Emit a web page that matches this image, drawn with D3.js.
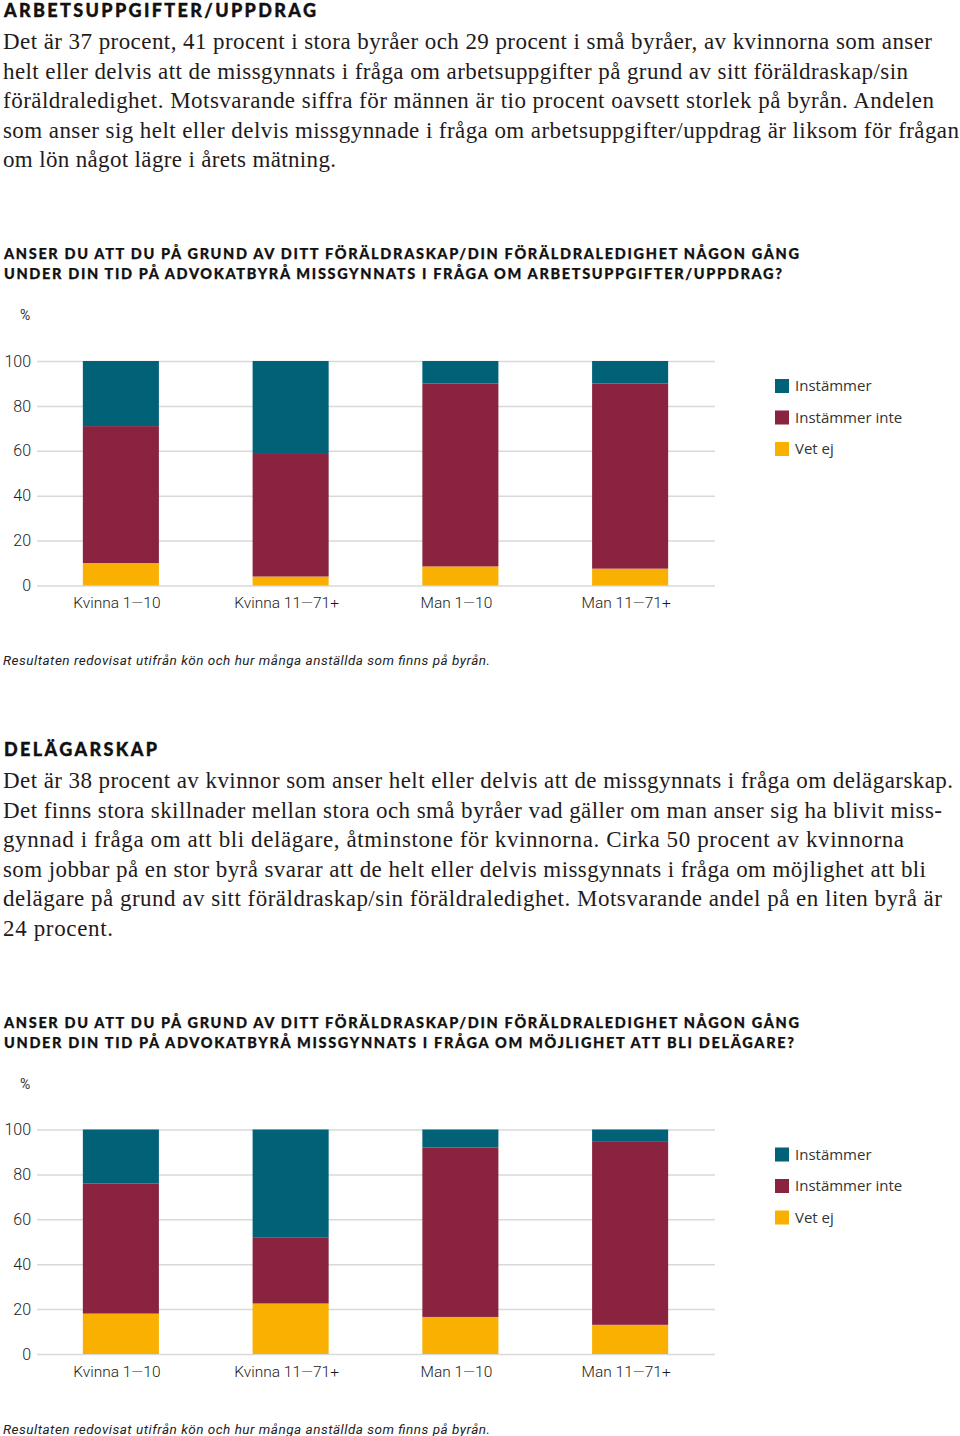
<!DOCTYPE html>
<html>
<head>
<meta charset="utf-8">
<script src="https://cdn.jsdelivr.net/npm/d3@7"></script>
<style>
  html, body { margin: 0; padding: 0; background: #fff; }
  svg { display: block; }
</style>
</head>
<body>
<div id="chart"></div>
<script>
// ---------- DATA ----------
const categories = ["Kvinna 1—10", "Kvinna 11—71+", "Man 1—10", "Man 11—71+"];
const seriesNames = ["Instämmer", "Instämmer inte", "Vet ej"];
const yTicks = [0, 20, 40, 60, 80, 100];

// Chart 1: arbetsuppgifter/uppdrag
const instammer1 = [29, 41, 10, 10];
const instammerInte1 = [61, 55, 81.5, 82.5];
const vetEj1 = [10, 4, 8.5, 7.5];

// Chart 2: delägarskap
const instammer2 = [24, 48, 8, 5.5];
const instammerInte2 = [58, 29.5, 75.5, 81.5];
const vetEj2 = [18, 22.5, 16.5, 13];

// Texts
const heading1 = "ARBETSUPPGIFTER/UPPDRAG";
const body1 = [
  "Det är 37 procent, 41 procent i stora byråer och 29 procent i små byråer, av kvinnorna som anser",
  "helt eller delvis att de missgynnats i fråga om arbetsuppgifter på grund av sitt föräldraskap/sin",
  "föräldraledighet. Motsvarande siffra för männen är tio procent oavsett storlek på byrån. Andelen",
  "som anser sig helt eller delvis missgynnade i fråga om arbetsuppgifter/uppdrag är liksom för frågan",
  "om lön något lägre i årets mätning."
];
const question1 = [
  "ANSER DU ATT DU PÅ GRUND AV DITT FÖRÄLDRASKAP/DIN FÖRÄLDRALEDIGHET NÅGON GÅNG",
  "UNDER DIN TID PÅ ADVOKATBYRÅ MISSGYNNATS I FRÅGA OM ARBETSUPPGIFTER/UPPDRAG?"
];
const heading2 = "DELÄGARSKAP";
const body2 = [
  "Det är 38 procent av kvinnor som anser helt eller delvis att de missgynnats i fråga om delägarskap.",
  "Det finns stora skillnader mellan stora och små byråer vad gäller om man anser sig ha blivit miss-",
  "gynnad i fråga om att bli delägare, åtminstone för kvinnorna. Cirka 50 procent av kvinnorna",
  "som jobbar på en stor byrå svarar att de helt eller delvis missgynnats i fråga om möjlighet att bli",
  "delägare på grund av sitt föräldraskap/sin föräldraledighet. Motsvarande andel på en liten byrå är",
  "24 procent."
];
const question2 = [
  "ANSER DU ATT DU PÅ GRUND AV DITT FÖRÄLDRASKAP/DIN FÖRÄLDRALEDIGHET NÅGON GÅNG",
  "UNDER DIN TID PÅ ADVOKATBYRÅ MISSGYNNATS I FRÅGA OM MÖJLIGHET ATT BLI DELÄGARE?"
];
const footnote = "Resultaten redovisat utifrån kön och hur många anställda som finns på byrån.";

// ---------- STYLE / LAYOUT ----------
const colors = { "Instämmer": "#006177", "Instämmer inte": "#8a2340", "Vet ej": "#f9b000" };
const W = 960, H = 1436;

const svg = d3.select("#chart").append("svg")
  .attr("width", W).attr("height", H)
  .attr("viewBox", `0 0 ${W} ${H}`);
svg.append("rect").attr("width", W).attr("height", H).attr("fill", "#fff");

// helper: text line fitted to a target width
function fitText(g, str, x, y, width, cls) {
  const t = g.append("text").attr("x", x).attr("y", y).attr("class", cls).text(str);
  if (width) t.attr("textLength", width).attr("lengthAdjust", "spacing");
  return t;
}

const headStyle = s => s.attr("font-family", "Lato, 'Open Sans', sans-serif").attr("font-weight", 900)
  .attr("font-size", 18).attr("fill", "#111").attr("stroke", "#111").attr("stroke-width", 0.35);
const bodyStyle = s => s.attr("font-family", "'Liberation Serif', 'DejaVu Serif', serif")
  .attr("font-size", 23).attr("fill", "#1f1b1c");
const questStyle = s => s.attr("font-family", "Lato, 'Open Sans', sans-serif").attr("font-weight", 900)
  .attr("font-size", 14.5).attr("fill", "#111").attr("stroke", "#111").attr("stroke-width", 0.25);

function section(top, heading, headW, body, bodyW) {
  const g = svg.append("g");
  headStyle(fitText(g, heading, 4, top + 17, headW));
  body.forEach((line, i) => {
    bodyStyle(fitText(g, line, 3, top + 49 + i * 29.6, bodyW[i]));
  });
}

section(0, heading1, 312, body1, [929, 905, 931, 956, 333]);
section(739, heading2, 153, body2, [950, 939, 901, 923, 939, 110]);

function chart(off, question, qW, vet, inte, inst) {
  const g = svg.append("g");
  question.forEach((line, i) => {
    questStyle(fitText(g, line, 4, 259 + off + i * 20, qW[i]));
  });

  g.append("text").attr("x", 20).attr("y", 320 + off)
    .attr("font-family", "Roboto, sans-serif").attr("font-size", 14).attr("fill", "#333")
    .text("%");

  const x = d3.scaleBand().domain(categories).range([36, 715])
    .paddingInner(0.552).paddingOuter(0.276);
  const y = d3.scaleLinear().domain([0, 100]).range([585.5 + off, 361 + off]);

  // gridlines + y labels
  const yAxis = g.append("g").attr("transform", `translate(37,0)`)
    .call(d3.axisLeft(y).tickValues(yTicks).tickSize(-(715 - 37)).tickPadding(6));
  yAxis.select(".domain").remove();
  yAxis.selectAll(".tick line").attr("stroke", "#d9d9d9").attr("stroke-width", 1.5);
  yAxis.selectAll(".tick text").attr("font-family", "Roboto, sans-serif")
    .attr("font-size", 16).attr("fill", "#222").attr("font-weight", 300);

  // stacked bars
  const rows = categories.map((c, i) => ({
    cat: c, "Vet ej": vet[i], "Instämmer inte": inte[i], "Instämmer": inst[i]
  }));
  const stack = d3.stack().keys(["Vet ej", "Instämmer inte", "Instämmer"])(rows);
  g.append("g").selectAll("g").data(stack).join("g")
    .attr("fill", d => colors[d.key])
    .selectAll("rect").data(d => d).join("rect")
    .attr("x", d => x(d.data.cat))
    .attr("width", x.bandwidth())
    .attr("y", d => y(d[1]))
    .attr("height", d => y(d[0]) - y(d[1]));

  // x labels
  const xAxis = g.append("g").attr("transform", `translate(-4,${585 + off})`)
    .call(d3.axisBottom(x).tickSize(0).tickPadding(12));
  xAxis.select(".domain").remove();
  xAxis.selectAll(".tick text").attr("font-family", "Roboto, sans-serif")
    .attr("font-size", 15.5).attr("fill", "#1a1a1a").attr("font-weight", 300);

  // legend
  const leg = g.append("g").attr("transform", `translate(775,${379 + off})`);
  seriesNames.forEach((name, i) => {
    const row = leg.append("g").attr("transform", `translate(0,${i * 31.5})`);
    row.append("rect").attr("width", 14).attr("height", 14).attr("fill", colors[name]);
    row.append("text").attr("x", 20).attr("y", 12)
      .attr("font-family", "'Open Sans', sans-serif").attr("font-size", 15).attr("fill", "#333")
      .text(name);
  });

  // footnote
  g.append("text").attr("x", 3).attr("y", 665 + off)
    .attr("font-family", "Roboto, sans-serif").attr("font-style", "italic").attr("font-weight", 400)
    .attr("font-size", 13.5).attr("fill", "#222")
    .attr("textLength", 487).attr("lengthAdjust", "spacing")
    .text(footnote);
}

chart(0, question1, [795, 778], vetEj1, instammerInte1, instammer1);
chart(768.5, question2, [795, 790], vetEj2, instammerInte2, instammer2);
</script>
</body>
</html>
